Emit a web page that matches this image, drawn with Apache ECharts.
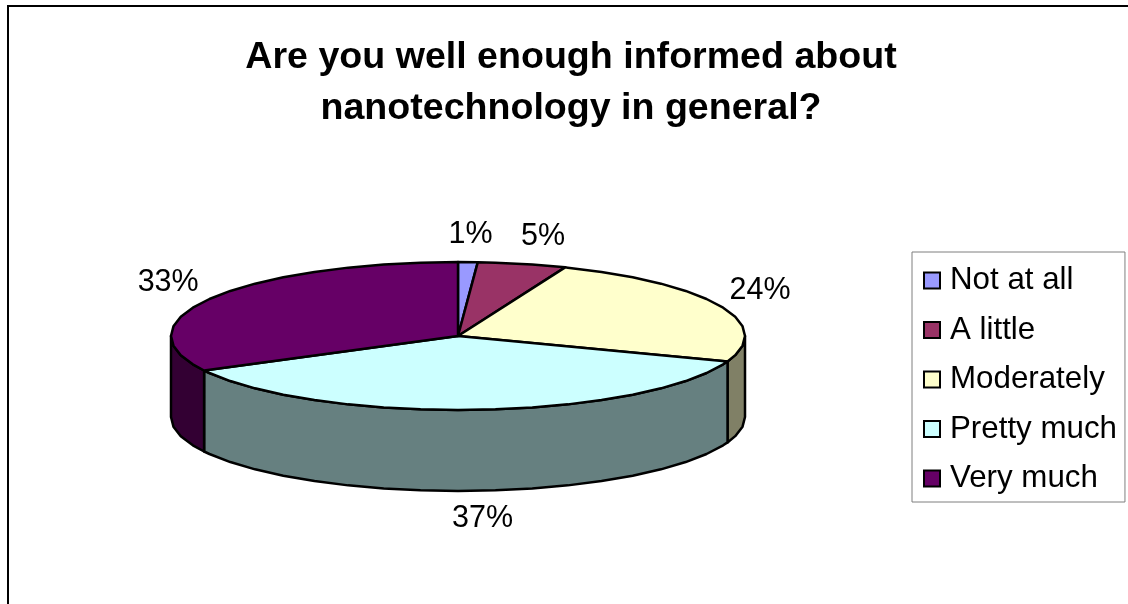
<!DOCTYPE html>
<html><head><meta charset="utf-8">
<style>html,body{margin:0;padding:0;background:#fff}#c{width:1128px;height:604px}</style>
<script src="https://cdn.jsdelivr.net/npm/echarts@6/dist/echarts.min.js"></script>
</head><body><div id="c"></div>
<script>
const titleLines = ['Are you well enough informed about', 'nanotechnology in general?'];
const categories = ['Not at all', 'A little', 'Moderately', 'Pretty much', 'Very much'];
const values = [1.1, 4.99, 24.49, 36.7, 32.72];

const topColors = ['#9999FF', '#993366', '#FFFFCC', '#CCFFFF', '#660066'];
const sideColors = ['#4D4D80', '#4D1A33', '#808066', '#668080', '#330033'];
const FONT = '"Liberation Sans", Arial, sans-serif';
const PIE = {cx: 458, cy: 336, rx: 287, ry: 74, depth: 81, step: 7.5};
const LABEL = {rx: 335, ry: 105};
const labelNudge = [[1, 4], [10, 3], [-4, -3], [2, -3], [-3, 1]];

const total = values.reduce((a, b) => a + b, 0);
const boundaries = [0];
values.forEach(v => boundaries.push(boundaries[boundaries.length - 1] + v / total * 360));

function pt(deg, dy) {
  const t = deg * Math.PI / 180;
  return [PIE.cx + PIE.rx * Math.sin(t), PIE.cy - PIE.ry * Math.cos(t) + (dy || 0)];
}
function arcAngles(a, b) {
  const out = [a];
  for (let d = Math.ceil(a / PIE.step + 1e-6) * PIE.step; d < b - 1e-6; d += PIE.step) out.push(d);
  out.push(b);
  return out;
}
function makeRender(i) {
  return function () {
    const a = boundaries[i], b = boundaries[i + 1];
    const children = [];
    const sa = Math.max(a, 90), sb = Math.min(b, 270);
    if (sb > sa) {
      const arc = arcAngles(sa, sb);
      const pts = arc.map(d => pt(d, 0)).concat(arc.slice().reverse().map(d => pt(d, PIE.depth)));
      children.push({type: 'polygon', z2: 1, shape: {points: pts},
        style: {fill: sideColors[i], stroke: '#000', lineWidth: 2.5, lineJoin: 'round'}});
    }
    const top = [[PIE.cx, PIE.cy]].concat(arcAngles(a, b).map(d => pt(d, 0)));
    children.push({type: 'polygon', z2: 2, shape: {points: top},
      style: {fill: topColors[i], stroke: '#000', lineWidth: 2.5, lineJoin: 'round'}});
    const mid = (a + b) / 2, t = mid * Math.PI / 180;
    const cos = Math.cos(t);
    const lx = PIE.cx + LABEL.rx * Math.sin(t) + labelNudge[i][0];
    const ly = PIE.cy - LABEL.ry * cos + (cos < 0 ? PIE.depth : 0) + labelNudge[i][1];
    children.push({type: 'text', z2: 3, style: {
      x: lx, y: ly, text: Math.round(values[i]) + '%', fill: '#000',
      font: '30.5px ' + FONT, align: 'center', verticalAlign: 'middle'}});
    return {type: 'group', children};
  };
}
const chart = echarts.init(document.getElementById('c'), null, {renderer: 'canvas'});
chart.setOption({
  animation: false,
  backgroundColor: '#fff',
  title: {
    text: titleLines.join('\n'), left: 566, top: 27, textAlign: 'center',
    textStyle: {fontFamily: FONT, fontWeight: 'bold', fontSize: 37.6, lineHeight: 51, color: '#000'}
  },
  graphic: [{type: 'rect', z: -1, silent: true, shape: {x: 8, y: 6, width: 1300, height: 800},
    style: {fill: 'none', stroke: '#000', lineWidth: 2}}],
  legend: {
    data: categories.map(name => ({name, icon: 'rect'})), orient: 'vertical', left: 912, top: 252,
    padding: [13, 8, 8, 11], itemGap: 18.5, itemWidth: 16, itemHeight: 16,
    borderColor: '#7f7f7f', borderWidth: 1, backgroundColor: '#fff', selectedMode: false,
    textStyle: {fontFamily: FONT, fontSize: 31.3, color: '#000', lineHeight: 30, padding: [0, 0, 0, 5]},
    itemStyle: {borderColor: '#000', borderWidth: 2}
  },
  series: categories.map((name, i) => ({
    type: 'custom', name, coordinateSystem: 'none', silent: true,
    itemStyle: {color: topColors[i]},
    data: [values[i]],
    renderItem: makeRender(i)
  }))
});
</script></body></html>
